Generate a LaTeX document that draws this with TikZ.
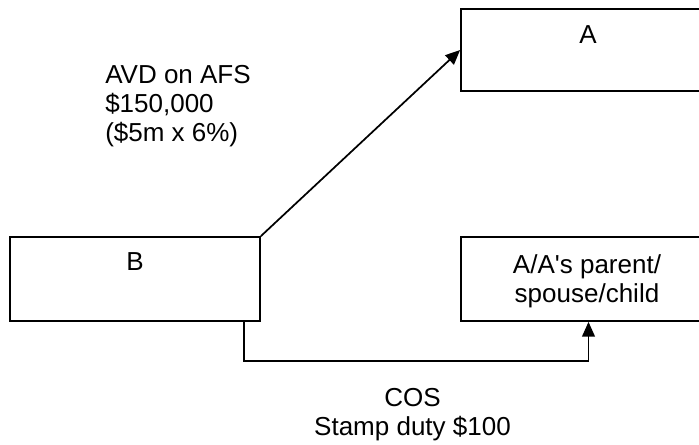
\documentclass[tikz,border=0pt]{standalone}
\usepackage{fontspec}
\setmainfont{Liberation Sans}
\usetikzlibrary{arrows.meta}

\begin{document}
\begin{tikzpicture}[x=0.75pt,y=-0.75pt]
        \tikzset{party/.style={draw,line width=1.3pt,rectangle,minimum height=63pt,inner sep=0pt}}
        \tikzset{txt/.style={font=\fontsize{19.5}{21.75}\selectfont,inner sep=0pt}}
        % the page frame
        \useasboundingbox (0,0) rectangle (699,444);
        % the three boxes
        \node[party,minimum width=191.25pt,minimum height=61.5pt] (a) at (588.5,50) {};
        \node[party,minimum width=187.5pt] (b) at (135,279) {};
        \node[party,minimum width=191.25pt] (c) at (588.5,279) {};
        % names in the boxes
        \node[txt,anchor=base] (aname) at (588,43) {A};
        \node[txt,anchor=base] (bname) at (135,270) {B};
        \node[txt,anchor=base,align=center] (cname) at (587,302) {A/A\textquotesingle s parent/\\spouse/child};
        % the connectors
        \coordinate (bot) at (244,361);
        \draw[line width=1.3pt][-{Triangle[length=11pt,width=9.5pt]}] (b.north east) -- (a.west);
        \draw[line width=1.3pt][-{Triangle[length=11pt,width=9.5pt]}] (b.south east -| bot) -- (bot) -| (c.south);
        % the labels on the connectors
        \node[txt,anchor=base west,align=left] (avd) at (105,141) {AVD on AFS\\\$150,000\\(\$5m x 6\%)};
        \node[txt,anchor=base,align=center] (cos) at (412.5,435) {COS\\Stamp duty \$100};
\end{tikzpicture}
\end{document}
